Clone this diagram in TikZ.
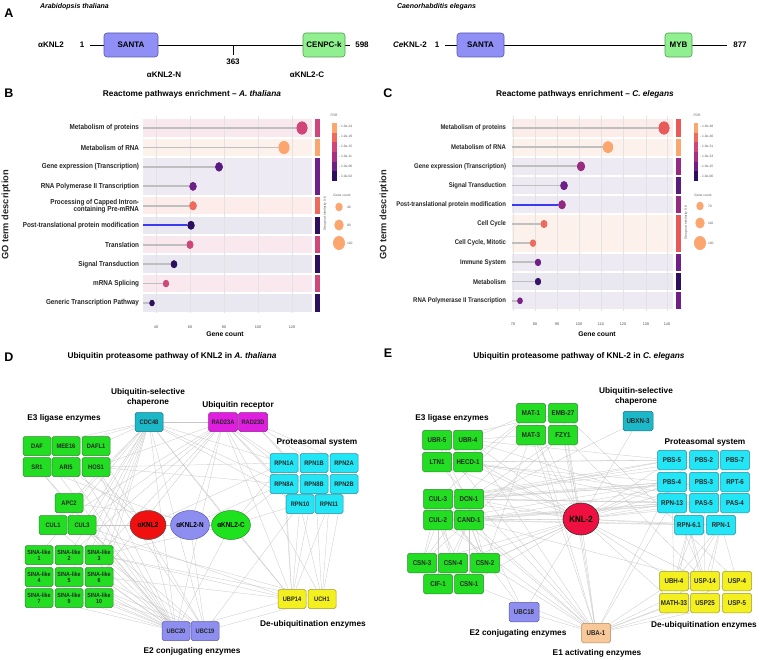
\documentclass[tikz,border=0pt]{standalone}
\usepackage{fontspec}
\setmainfont{Liberation Sans}
\newfontfamily\nf[FakeStretch=0.88]{Liberation Sans}
\usetikzlibrary{shapes.geometric}
\newcommand\myfs[1]{\fontsize{#1}{#1}\selectfont}
\definecolor{m1}{HTML}{FBA56F}
\definecolor{m2}{HTML}{EE6A5C}
\definecolor{m2c}{HTML}{E85A5A}
\definecolor{m3}{HTML}{D0457A}
\definecolor{m5}{HTML}{6E1F88}
\definecolor{m5b}{HTML}{5A1A82}
\definecolor{m6}{HTML}{2C105E}
\definecolor{m4}{HTML}{A8307F}
\definecolor{bP}{HTML}{F9E8EE}
\definecolor{bO}{HTML}{FDF1EC}
\definecolor{bR}{HTML}{FCEDEA}
\definecolor{bL}{HTML}{EEEAF4}
\definecolor{bG}{HTML}{E9E7F0}
\definecolor{gF}{HTML}{22DD22}
\definecolor{gD}{HTML}{2A8A2A}
\definecolor{cF}{HTML}{22E6F6}
\definecolor{cD}{HTML}{2A8A9A}
\definecolor{tF}{HTML}{1CB8C8}
\definecolor{tD}{HTML}{1A7080}
\definecolor{pF}{HTML}{E01EE0}
\definecolor{pD}{HTML}{902090}
\definecolor{yF}{HTML}{F4F020}
\definecolor{yD}{HTML}{9A9A30}
\definecolor{lF}{HTML}{8E8EF0}
\definecolor{lD}{HTML}{5A5AA8}
\definecolor{oF}{HTML}{F8C898}
\definecolor{oD}{HTML}{B08860}
\definecolor{rF}{HTML}{F01010}
\definecolor{rE}{HTML}{EE1040}
\definecolor{dG}{HTML}{90F090}
\definecolor{dGD}{HTML}{50A050}
\definecolor{dB}{HTML}{8F8FF5}
\definecolor{dBD}{HTML}{5A5AB0}
\definecolor{lolblue}{HTML}{3A3AF0}
\pgfdeclarelayer{bg}
\pgfsetlayers{bg,main}
\tikzset{
 every node/.style={inner sep=0pt, outer sep=0pt},
 plet/.style={font=\bfseries\myfs{12.5}},
 atxt/.style={font=\bfseries\myfs{8}},
 dom/.style={draw, rounded corners=3pt, minimum height=24pt, font=\bfseries\myfs{8}, line width=0.6pt},
 ptitle/.style={font=\bfseries\myfs{8.3}},
 rowlab/.style={font=\nf\bfseries\myfs{7.2}, anchor=east, align=right, text=black!85},
 rowlabc/.style={font=\nf\bfseries\myfs{6.8}, anchor=east, align=right, text=black!85},
 lol/.style={line width=1.8pt, draw=gray!50},
 dot/.style={ellipse, inner sep=0pt},
 tck/.style={font=\myfs{3.8}, text=black!70},
 tiny/.style={font=\myfs{3.3}, text=black!65},
 gtitle/.style={rotate=90, text=black!85},
 axt/.style={font=\bfseries\myfs{6.8}},
 grp/.style={font=\bfseries\fontsize{8.3}{10}\selectfont, align=center},
 bb/.style={draw, rounded corners=1.8pt, minimum width=28pt, minimum height=19pt, line width=0.5pt, font=\nf\bfseries\myfs{6.5}, align=center, text=black!85},
 sina/.style={bb, font=\nf\bfseries\myfs{6}},
 eb/.style={bb, minimum width=29pt, minimum height=19.5pt, font=\nf\bfseries\myfs{7}},
 grn/.style={fill=gF, draw=gD},
 cyn/.style={fill=cF, draw=cD},
 tel/.style={fill=tF, draw=tD},
 mag/.style={fill=pF, draw=pD},
 yel/.style={fill=yF, draw=yD},
 lav/.style={fill=lF, draw=lD},
 pea/.style={fill=oF, draw=oD},
 edge/.style={draw=gray!45, line width=0.28pt},
 grid/.style={draw=gray!22, line width=0.35pt}
}
\begin{document}
\begin{tikzpicture}[x=1pt,y=-1pt]
\begin{pgfonlayer}{bg}
\fill[white] (0,0) rectangle (760,660);
\end{pgfonlayer}
\useasboundingbox (0,0) rectangle (760,660);

%================ Panel A ================
\node[plet] (lA) at (9,13) {A};
\node[font=\bfseries\itshape\myfs{7}, anchor=west] (atn) at (40,7) {Arabidopsis thaliana};
\node[atxt] (akn) at (51,45) {αKNL2};
\node[atxt] (a1) at (82,45) {1};
\coordinate (aL) at (90,45);
\coordinate (aR) at (350,45);
\draw[line width=0.9pt] (aL) -- (aR);
\node[dom, fill=dB, draw=dBD, minimum width=54pt] (asanta) at (131,45) {SANTA};
\node[dom, fill=dG, draw=dGD, minimum width=42pt] (acenp) at (324,45) {CENPC-k};
\node[atxt] (a598) at (362,45) {598};
\coordinate (tkT) at (233,45);
\coordinate (tkB) at (233,55);
\draw[line width=0.9pt] (tkT) -- (tkB);
\node[atxt] (a363) at (233,62) {363};
\node[atxt] (aN) at (164,75) {αKNL2-N};
\node[atxt] (aC) at (307,75) {αKNL2-C};

\node[font=\bfseries\itshape\myfs{7}, anchor=west] (cen) at (397,7) {Caenorhabditis elegans};
\node[atxt] (ckn) at (410,45) {{\itshape Ce}KNL-2};
\node[atxt] (c1) at (437,45) {1};
\coordinate (cL) at (445,45);
\coordinate (cR) at (727,45);
\draw[line width=0.9pt] (cL) -- (cR);
\node[dom, fill=dB, draw=dBD, minimum width=47pt] (csanta) at (480.5,45) {SANTA};
\node[dom, fill=dG, draw=dGD, minimum width=27pt] (cmyb) at (678.5,45) {MYB};
\node[atxt] (c877) at (740,45) {877};

%================ Panel B ================
\node[plet] (lB) at (9,93) {B};
\node[ptitle] (tB) at (192,94) {Reactome pathways enrichment -- \textit{A. thaliana}};
\node[gtitle, font=\bfseries\myfs{9.3}] (goB) at (6,215) {GO term description};
% bands
\fill[bP] (143,119.3) rectangle (312,136.7);
\fill[bO] (143,138.8) rectangle (312,156.2);
\fill[bL] (143,158.2) rectangle (312,195.1);
\fill[bR] (143,197.1) rectangle (312,214.5);
\fill[bG] (143,216.6) rectangle (312,234.0);
\fill[bP] (143,236.0) rectangle (312,253.4);
\fill[bG] (143,255.5) rectangle (312,272.9);
\fill[bP] (143,274.9) rectangle (312,292.3);
\fill[bG] (143,294.4) rectangle (312,311.8);
% strips
\fill[m3] (315,119.3) rectangle (320,136.7);
\fill[m1] (315,138.8) rectangle (320,156.2);
\fill[m5] (315,158.2) rectangle (320,195.1);
\fill[m2] (315,197.1) rectangle (320,214.5);
\fill[m6] (315,216.6) rectangle (320,234.0);
\fill[m3] (315,236.0) rectangle (320,253.4);
\fill[m6] (315,255.5) rectangle (320,272.9);
\fill[m3] (315,274.9) rectangle (320,292.3);
\fill[m6] (315,294.4) rectangle (320,311.8);
% grid
\foreach \gx in {156,190,224,258,292} \draw[grid] (\gx,116) -- (\gx,313);
% rows
\newcommand\lrow[8]{%
 \node[rowlab] (#1l) at (139,#2) {#3};
 \node[dot, fill=#6, minimum width=2*#5pt, minimum height=2.4*#5pt] (#1d) at (#4,#2) {};
 \coordinate (#1s) at (143,#2);
 \draw[lol, draw=#7] (#1s) -- (#1d);
 \node[dot, fill=#6, minimum width=2*#5pt, minimum height=2.4*#5pt] at (#1d) {};
}
\lrow{b0}{128}{Metabolism of proteins}{302}{5.4}{m3}{gray!50}{}
\lrow{b1}{147.5}{Metabolism of RNA}{284}{5.4}{m1}{gray!50}{}
\lrow{b2}{166.9}{Gene expression (Transcription)}{219}{3.8}{m5b}{gray!50}{}
\lrow{b3}{186.4}{RNA Polymerase II Transcription}{193}{3.6}{m5}{gray!50}{}
\lrow{b4}{205.8}{Processing of Capped Intron-\\containing Pre-mRNA}{193}{3.7}{m2}{gray!50}{}
\lrow{b5}{225.3}{Post-translational protein modification}{191}{3.6}{m6}{lolblue}{}
\lrow{b6}{244.7}{Translation}{190}{3.4}{m3}{gray!50}{}
\lrow{b7}{264.2}{Signal Transduction}{174}{3.2}{m6}{gray!50}{}
\lrow{b8}{283.6}{mRNA Splicing}{166}{3.0}{m3}{gray!50}{}
\lrow{b9}{303.1}{Generic Transcription Pathway}{152}{2.6}{m6}{gray!50}{}
% axis
\node[tck] (bx40) at (156,327) {40};
\node[tck] (bx60) at (190,327) {60};
\node[tck] (bx80) at (224,327) {80};
\node[tck] (bx100) at (258,327) {100};
\node[tck] (bx120) at (292,327) {120};
\node[axt] (gcB) at (225,334) {Gene count};
% legend
\node[tiny] (fdrB) at (334,115) {FDR};
\fill[m1] (332,123) rectangle (337,132.7);
\fill[m2] (332,132.7) rectangle (337,142.3);
\fill[m3] (332,142.3) rectangle (337,152);
\fill[m4] (332,152) rectangle (337,161.7);
\fill[m5] (332,161.7) rectangle (337,171.3);
\fill[m6] (332,171.3) rectangle (337,181);
\node[tiny, anchor=west] (fb1) at (339,126) {- 1.0e-24};
\node[tiny, anchor=west] (fb2) at (339,136) {- 1.0e-19};
\node[tiny, anchor=west] (fb3) at (339,146) {- 1.0e-15};
\node[tiny, anchor=west] (fb4) at (339,156) {- 1.0e-11};
\node[tiny, anchor=west] (fb5) at (339,166) {- 1.0e-06};
\node[tiny, anchor=west] (fb6) at (339,176) {- 1.0e-02};
\node[tiny, rotate=90] (gsB) at (325,214) {Groups at similarity 0.6};
\node[tiny] (gclB) at (342,195) {Gene count};
\node[dot, fill=m1, minimum width=7.4pt, minimum height=8.6pt] (lc1B) at (339,207) {};
\node[dot, fill=m1, minimum width=9.4pt, minimum height=11pt] (lc2B) at (339,225) {};
\node[dot, fill=m1, minimum width=12pt, minimum height=14pt] (lc3B) at (339,243) {};
\node[tiny, anchor=west] (ll1B) at (347,207) {40};
\node[tiny, anchor=west] (ll2B) at (347,225) {80};
\node[tiny, anchor=west] (ll3B) at (347,243) {120};

%================ Panel C ================
\node[plet] (lC) at (388,93) {C};
\node[ptitle] (tC) at (585,94) {Reactome pathways enrichment -- \textit{C. elegans}};
\node[gtitle, font=\bfseries\myfs{9.3}] (goC) at (384,215) {GO term description};
\fill[bR] (512,119.4) rectangle (673,136.6);
\fill[bO] (512,138.6) rectangle (673,155.8);
\fill[bL] (512,157.8) rectangle (673,175.0);
\fill[bL] (512,177.0) rectangle (673,194.2);
\fill[bL] (512,196.2) rectangle (673,213.4);
\fill[bO] (512,215.4) rectangle (673,251.8);
\fill[bL] (512,253.8) rectangle (673,271.0);
\fill[bG] (512,273.0) rectangle (673,290.2);
\fill[bL] (512,292.2) rectangle (673,309.4);
\fill[m2c] (676,119.4) rectangle (681,136.6);
\fill[m1] (676,138.6) rectangle (681,155.8);
\fill[m4!70!m5] (676,157.8) rectangle (681,175.0);
\fill[m5!70!m6] (676,177.0) rectangle (681,194.2);
\fill[m4!70!m5] (676,196.2) rectangle (681,213.4);
\fill[m2c] (676,215.4) rectangle (681,251.8);
\fill[m5] (676,253.8) rectangle (681,271.0);
\fill[m6] (676,273.0) rectangle (681,290.2);
\fill[m5] (676,292.2) rectangle (681,309.4);
\foreach \gx in {513,535,557,579,601,623,646,667} \draw[grid] (\gx,116) -- (\gx,311);
\renewcommand\lrow[8]{%
 \node[rowlabc] (#1l) at (506,#2) {#3};
 \node[dot, fill=#6, minimum width=2*#5pt, minimum height=2.4*#5pt] (#1d) at (#4,#2) {};
 \coordinate (#1s) at (512,#2);
 \draw[lol, draw=#7] (#1s) -- (#1d);
 \node[dot, fill=#6, minimum width=2*#5pt, minimum height=2.4*#5pt] at (#1d) {};
}
\lrow{c0}{128}{Metabolism of proteins}{664}{5.4}{m2c}{gray!50}{}
\lrow{c1}{147.2}{Metabolism of RNA}{608}{5.0}{m1}{gray!50}{}
\lrow{c2}{166.4}{Gene expression (Transcription)}{581}{4.0}{m4!75!m5}{gray!50}{}
\lrow{c3}{185.6}{Signal Transduction}{564}{3.7}{m5}{gray!50}{}
\lrow{c4}{204.8}{Post-translational protein modification}{562}{3.7}{m4!60!m5}{lolblue}{}
\lrow{c5}{224}{Cell Cycle}{544}{3.3}{m2}{gray!50}{}
\lrow{c6}{243.2}{Cell Cycle, Mitotic}{533}{3.0}{m2}{gray!50}{}
\lrow{c7}{262.4}{Immune System}{538}{3.0}{m5}{gray!50}{}
\lrow{c8}{281.6}{Metabolism}{538}{3.0}{m6!80!m5}{gray!50}{}
\lrow{c9}{300.8}{RNA Polymerase II Transcription}{520}{2.7}{m5!80!m4}{gray!50}{}
\node[tck] (cx70) at (513,324) {70};
\node[tck] (cx80) at (535,324) {80};
\node[tck] (cx90) at (557,324) {90};
\node[tck] (cx100) at (579,324) {100};
\node[tck] (cx110) at (601,324) {110};
\node[tck] (cx120) at (623,324) {120};
\node[tck] (cx130) at (646,324) {130};
\node[tck] (cx140) at (667,324) {140};
\node[axt] (gcC) at (597,334) {Gene count};
\node[tiny] (fdrC) at (697,115) {FDR};
\fill[m1] (694,123) rectangle (698,132.7);
\fill[m2] (694,132.7) rectangle (698,142.3);
\fill[m3] (694,142.3) rectangle (698,152);
\fill[m4] (694,152) rectangle (698,161.7);
\fill[m5] (694,161.7) rectangle (698,171.3);
\fill[m6] (694,171.3) rectangle (698,181);
\node[tiny, anchor=west] (fc1) at (700,126) {- 1.0e-48};
\node[tiny, anchor=west] (fc2) at (700,136) {- 1.0e-40};
\node[tiny, anchor=west] (fc3) at (700,146) {- 1.0e-31};
\node[tiny, anchor=west] (fc4) at (700,156) {- 1.0e-23};
\node[tiny, anchor=west] (fc5) at (700,166) {- 1.0e-15};
\node[tiny, anchor=west] (fc6) at (700,176) {- 1.0e-06};
\node[tiny, rotate=90] (gsC) at (686,223) {Groups at similarity 0.8};
\node[tiny] (gclC) at (703,195) {Gene count};
\node[dot, fill=m1, minimum width=7.4pt, minimum height=8.6pt] (lc1C) at (700,206) {};
\node[dot, fill=m1, minimum width=9.4pt, minimum height=11pt] (lc2C) at (700,223) {};
\node[dot, fill=m1, minimum width=12pt, minimum height=14pt] (lc3C) at (700,243) {};
\node[tiny, anchor=west] (ll1C) at (708,206) {70};
\node[tiny, anchor=west] (ll2C) at (708,223) {110};
\node[tiny, anchor=west] (ll3C) at (708,243) {140};

%================ Panel D ================
\node[plet] (lD) at (9,357) {D};
\node[ptitle] (tD) at (172,356) {Ubiquitin proteasome pathway of KNL2 in \textit{A. thaliana}};
\node[grp] (gchD) at (148,397) {Ubiquitin-selective\\chaperone};
\node[grp] (grecD) at (238,405) {Ubiquitin receptor};
\node[grp] (ge3D) at (64,418) {E3 ligase enzymes};
\node[grp] (gprD) at (317,442) {Proteasomal system};
\node[grp] (gdeD) at (313,624) {De-ubiquitination enzymes};
\node[grp] (ge2D) at (192,651) {E2 conjugating enzymes};

\node[bb, tel] (cdc) at (149,422) {CDC48};
\node[bb, mag, minimum width=29pt] (radA) at (223,422) {RAD23A};
\node[bb, mag, minimum width=29pt] (radD) at (253,422) {RAD23D};
\node[bb, grn] (daf) at (37,446) {DAF};
\node[bb, grn] (mee) at (66,446) {MEE16};
\node[bb, grn] (dafl) at (96,446) {DAFL1};
\node[bb, grn] (sr1) at (37,467) {SR1};
\node[bb, grn] (ari) at (66,467) {ARI5};
\node[bb, grn] (hos) at (96,467) {HOS1};
\node[bb, cyn] (r1a) at (284,463) {RPN1A};
\node[bb, cyn] (r1b) at (314,463) {RPN1B};
\node[bb, cyn] (r2a) at (344,463) {RPN2A};
\node[bb, cyn] (r8a) at (284,484) {RPN8A};
\node[bb, cyn] (r8b) at (314,484) {RPN8B};
\node[bb, cyn] (r2b) at (344,484) {RPN2B};
\node[bb, cyn] (r10) at (300,504) {RPN10};
\node[bb, cyn] (r11) at (329,504) {RPN11};
\node[bb, grn] (apc) at (69,503) {APC2};
\node[bb, grn] (cul1d) at (53,525) {CUL1};
\node[bb, grn] (cul3d) at (82,525) {CUL3};
\node[sina, grn] (s1) at (39,555) {SINA-like\\1};
\node[sina, grn] (s2) at (69,555) {SINA-like\\2};
\node[sina, grn] (s3) at (99,555) {SINA-like\\3};
\node[sina, grn] (s4) at (39,577) {SINA-like\\4};
\node[sina, grn] (s5) at (69,577) {SINA-like\\5};
\node[sina, grn] (s6) at (99,577) {SINA-like\\6};
\node[sina, grn] (s7) at (39,598) {SINA-like\\7};
\node[sina, grn] (s8) at (69,598) {SINA-like\\9};
\node[sina, grn] (s9) at (99,598) {SINA-like\\10};
\node[ellipse, draw=black!70, fill=rF, minimum width=36pt, minimum height=29pt, line width=0.5pt, font=\nf\bfseries\myfs{7.3}] (ak) at (148,525) {αKNL2};
\node[ellipse, draw=lD, fill=lF, minimum width=35pt, minimum height=29pt, line width=0.5pt, font=\nf\bfseries\myfs{7.3}] (an) at (190,525) {αKNL2-N};
\node[ellipse, draw=gD, fill=gF!85!green, minimum width=35pt, minimum height=29pt, line width=0.5pt, font=\nf\bfseries\myfs{7.3}] (ac) at (231,525) {αKNL2-C};
\node[bb, yel] (ubp) at (292,599) {UBP14};
\node[bb, yel] (uch) at (322,599) {UCH1};
\node[bb, lav] (u20) at (176,631) {UBC20};
\node[bb, lav] (u19) at (205,631) {UBC19};

\begin{pgfonlayer}{bg}
\foreach \b in {radA,daf,mee,dafl,apc,cul1d,cul3d,s1,s2,s3,s5,s6,s8,s9,u20,u19,r1a,r8a,r10,ubp,ac} \draw[edge] (cdc) -- (\b);
\foreach \b in {r1a,r8a,r10,r11,ubp,uch,cul1d,cul3d,s2,s3,s6,u20,an,hos} \draw[edge] (radA) -- (\b);
\foreach \b in {r1b,r2a,r8b,r11} \draw[edge] (radD) -- (\b);
\foreach \b in {s1,s2,s3,s4,s5,s6,s7,s8,s9,cul1d,cul3d,apc,daf,sr1,ari,hos,mee,ak,ac,ubp} \draw[edge] (u20) -- (\b);
\foreach \b in {s3,s5,s6,s9,cul3d,hos,dafl,an,r10,uch} \draw[edge] (u19) -- (\b);
\foreach \b in {r1a,r8a,r8b,r10,r11,cul3d,s3,s6,ac} \draw[edge] (ubp) -- (\b);
\foreach \b in {r1b,r2b,r10,r11,s3,cul1d} \draw[edge] (uch) -- (\b);
\foreach \b in {r1a,r8a,r10,s3,cul3d,apc} \draw[edge] (ac) -- (\b);
\foreach \b in {sr1,r8a} \draw[edge] (an) -- (\b);
\foreach \b in {daf,mee,r1a} \draw[edge] (ak) -- (\b);
\foreach \b in {sr1,cul1d} \draw[edge] (apc) -- (\b);
\foreach \b in {r8a,r1a} \draw[edge] (hos) -- (\b);
\end{pgfonlayer}

%================ Panel E ================
\node[plet] (lE) at (388,353) {E};
\node[ptitle] (tE) at (579,356) {Ubiquitin proteasome pathway of KNL-2 in \textit{C. elegans}};
\node[grp] (gchE) at (636,396) {Ubiquitin-selective\\chaperone};
\node[grp] (ge3E) at (452,418) {E3 ligase enzymes};
\node[grp] (gprE) at (705,442) {Proteasomal system};
\node[grp] (gdeE) at (704,625) {De-ubiquitination enzymes};
\node[grp] (ge2E) at (518,633) {E2 conjugating enzymes};
\node[grp] (ge1E) at (597,653) {E1 activating enzymes};

\node[eb, tel, minimum width=30pt] (ubxn) at (638,421) {UBXN-3};
\node[eb, grn] (mat1) at (531,413) {MAT-1};
\node[eb, grn] (emb27) at (563,413) {EMB-27};
\node[eb, grn] (mat3) at (531,435) {MAT-3};
\node[eb, grn] (fzy1) at (563,435) {FZY1};
\node[eb, grn] (ubr5) at (437,440) {UBR-5};
\node[eb, grn] (ubr4) at (468,440) {UBR-4};
\node[eb, grn] (ltn1) at (437,462) {LTN1};
\node[eb, grn] (hecd1) at (468,462) {HECD-1};
\node[eb, cyn] (pbs5) at (672,460) {PBS-5};
\node[eb, cyn] (pbs2) at (704,460) {PBS-2};
\node[eb, cyn] (pbs7) at (735,460) {PBS-7};
\node[eb, cyn] (pbs4) at (672,482) {PBS-4};
\node[eb, cyn] (pbs3) at (704,482) {PBS-3};
\node[eb, cyn] (rpt6) at (735,482) {RPT-6};
\node[eb, cyn] (rpn13) at (672,503) {RPN-13};
\node[eb, cyn] (pas5) at (704,503) {PAS-5};
\node[eb, cyn] (pas4) at (735,503) {PAS-4};
\node[eb, cyn] (rpn61) at (689,525) {RPN-6.1};
\node[eb, cyn] (rpn1) at (721,525) {RPN-1};
\node[eb, grn] (cul3) at (438,499) {CUL-3};
\node[eb, grn] (dcn1) at (469,499) {DCN-1};
\node[eb, grn] (cul2) at (438,520) {CUL-2};
\node[eb, grn] (cand1) at (469,520) {CAND-1};
\node[ellipse, draw=black!80, fill=rE, minimum width=36pt, minimum height=32pt, line width=0.6pt, font=\nf\bfseries\myfs{9}] (knl) at (581,519) {KNL-2};
\node[eb, grn] (csn3) at (422,563) {CSN-3};
\node[eb, grn] (csn4) at (453,563) {CSN-4};
\node[eb, grn] (csn2) at (485,563) {CSN-2};
\node[eb, grn] (cif1) at (438,584) {CIF-1};
\node[eb, grn] (csn1) at (469,584) {CSN-1};
\node[eb, lav, minimum width=30pt] (ubc18) at (524,612) {UBC18};
\node[eb, pea] (uba1) at (596,633) {UBA-1};
\node[eb, yel] (ubh4) at (674,581) {UBH-4};
\node[eb, yel] (usp14) at (705,581) {USP-14};
\node[eb, yel] (usp4) at (737,581) {USP-4};
\node[eb, yel] (math33) at (674,603) {MATH-33};
\node[eb, yel] (usp25) at (705,603) {USP25};
\node[eb, yel] (usp5) at (737,603) {USP-5};

\begin{pgfonlayer}{bg}
\foreach \b in {ubr5,ubr4,ltn1,hecd1,cul3,dcn1,cul2,cand1,csn3,csn4,csn2,cif1,csn1,mat1,mat3,fzy1,emb27,pbs5,pbs2,pbs4,pbs3,rpn13,pas5,pas4,rpn61,rpn1,ubh4,usp14,math33,uba1,ubc18} \draw[edge] (knl) -- (\b);
\foreach \b in {pbs5,pbs2,pbs7,pbs4,rpt6,pas5} \draw[edge] (cul3) -- (\b);
\foreach \b in {pbs5,pbs4,pbs3,rpn13,pas4} \draw[edge] (dcn1) -- (\b);
\foreach \b in {pbs4,rpn13,pas5,rpn61} \draw[edge] (cul2) -- (\b);
\foreach \b in {pbs3,pas5,rpn13,rpn1,usp14} \draw[edge] (cand1) -- (\b);
\foreach \b in {pbs5,pbs2,rpn13,pas4} \draw[edge] (hecd1) -- (\b);
\foreach \b in {pbs5,rpn13,uba1} \draw[edge] (ubr4) -- (\b);
\foreach \b in {uba1,csn2} \draw[edge] (ubr5) -- (\b);
\foreach \b in {uba1,pbs4} \draw[edge] (ltn1) -- (\b);
\foreach \b in {cul3,cul2,cand1,mat1,mat3,fzy1,emb27,ubh4,usp14,usp4,math33,usp25,usp5,pbs4,rpn13,csn2,csn1,ubc18} \draw[edge] (uba1) -- (\b);
\foreach \b in {cul3,cul2,cand1,dcn1} \draw[edge] (csn3) -- (\b);
\foreach \b in {cul2,cand1,cul3} \draw[edge] (csn4) -- (\b);
\foreach \b in {cul3,dcn1,cand1} \draw[edge] (csn2) -- (\b);
\foreach \b in {cul2,cand1} \draw[edge] (cif1) -- (\b);
\foreach \b in {cul2,cand1,dcn1} \draw[edge] (csn1) -- (\b);
\foreach \b in {ubh4,usp14,math33,usp25} \draw[edge] (rpn61) -- (\b);
\foreach \b in {ubh4,usp14,usp4,math33,usp25} \draw[edge] (rpn1) -- (\b);
\foreach \b in {ubh4,usp14} \draw[edge] (pas5) -- (\b);
\foreach \b in {ubh4,usp14} \draw[edge] (rpn13) -- (\b);
\foreach \b in {cul3,hecd1,ubr4} \draw[edge] (mat1) -- (\b);
\foreach \b in {ubr4,csn2,cul2} \draw[edge] (mat3) -- (\b);
\foreach \b in {cul2,cand1,usp14} \draw[edge] (fzy1) -- (\b);
\foreach \b in {ubr5,usp4} \draw[edge] (emb27) -- (\b);
\foreach \b in {cul2,knl} \draw[edge] (ubxn) -- (\b);
\foreach \b in {cul3,ubr5} \draw[edge] (ubc18) -- (\b);
\end{pgfonlayer}
\end{tikzpicture}
\end{document}
